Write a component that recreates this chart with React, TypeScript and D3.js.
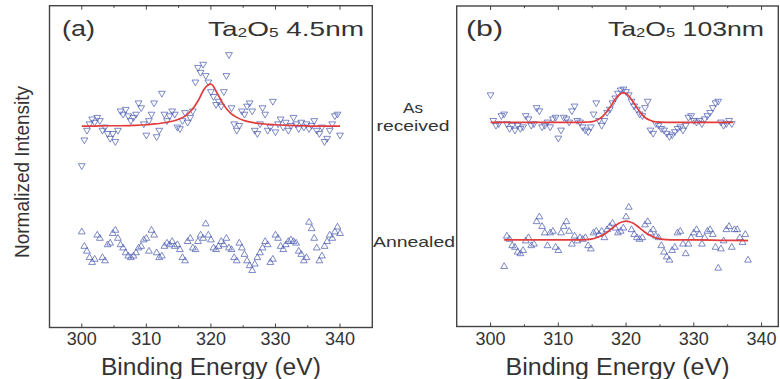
import React from 'react';
import * as d3 from 'd3';

// ---------- data ----------
const MAJOR_TICKS = [300, 310, 320, 330, 340];
const MINOR_TICKS = [305, 315, 325, 335];
const X_TITLE = 'Binding Energy (eV)';
const Y_TITLE = 'Normalized Intensity';

const STEP = 0.4;
const A_RECEIVED_START = 300;
const aReceived = [
  50, 58, 61, 63, 64.5, 63.5, 65, 64, 61, 62, 60, 58.5, 60, 57.5, 61, 67, 66, 67.5, 65.5, 64,
  65, 66, 69.5, 68, 63, 59.5, 64, 66, 69.5, 59, 61, 72.5, 66, 64, 65.5, 67, 66, 62, 61.5, 64,
  66.5, 63.5, 65, 67, 76, 80.5, 79, 81.5, 78, 76, 73, 71.5, 69, 70, 68.5, 73, 78, 84.5, 68, 63,
  61, 62.5, 67, 66, 68.5, 69.5, 67, 61, 60, 63, 68, 66, 61, 62, 70, 60.5, 63, 64.5, 62, 63.5,
  61, 62.5, 65, 63, 61.5, 63.5, 62, 63, 61.5, 62.5, 64, 61, 60, 62, 57.5, 58.5, 61, 63, 65.5, 66,
  59.5,
];
const A_ANNEALED_START = 300;
const aAnnealed = [
  30, 25.5, 24, 22, 20.5, 21.5, 29, 28, 22, 21, 26, 26.5, 29.5, 30.5, 28, 26, 25, 23.5, 22.5, 22,
  22.5, 23.5, 25, 25.5, 27.5, 28, 24, 30.5, 29, 23.5, 22, 22.5, 25.5, 26.5, 26, 27, 25.5, 26, 24.5, 22,
  21, 27, 28, 25, 24.5, 27, 29, 28, 32.5, 29, 27.5, 25, 24.5, 25.5, 27, 26, 28, 25, 24.5, 22,
  21, 26.5, 25, 23, 21, 19.5, 18, 20, 22, 23.5, 25, 27, 26, 20.5, 21.5, 29, 28, 25.5, 24.5, 26,
  27, 27.5, 27, 26.5, 24, 23, 21, 22, 33, 31, 28, 25, 21, 22.5, 25.5, 27, 29, 28, 30, 31.5,
  29.5,
];
const B_RECEIVED_START = 300;
const bReceived = [
  72, 64, 62.5, 63, 65.5, 66, 63, 61.5, 62.5, 61, 62.5, 61.5, 62, 65.5, 64.5, 62.5, 63, 68, 67, 62,
  62.5, 63.5, 62, 64.5, 65, 58.5, 61, 65, 64.5, 63.5, 67, 68.5, 64, 63.5, 62, 61, 60.5, 62, 66, 69.5,
  64, 62.5, 64, 66.5, 67.5, 69.5, 71, 72.5, 73.5, 73.8, 73, 72, 70, 68.5, 67.5, 66, 65.5, 68, 70, 61,
  60, 63, 62.5, 61.5, 61, 60, 59, 59.5, 60.5, 61.5, 62, 61, 62.5, 65, 65.5, 64, 63.5, 64, 63, 64.5,
  65.5, 66.5, 68, 69.5, 70, 63.5, 62.5, 63, 64, 63,
];
const B_ANNEALED_START = 302;
const bAnnealed = [
  19, 28.5, 27.5, 25.5, 25, 23.5, 23, 24, 27, 28, 25.5, 26, 33, 34.5, 31.5, 29.5, 25.5, 29.5, 30, 25,
  24, 29.5, 31.5, 33, 30, 26, 28.5, 27, 28, 27.5, 28, 25.5, 24.5, 29.5, 30, 29, 30, 28, 30.5, 31.5,
  32.5, 31, 29.5, 30, 31, 34.5, 37.5, 30.5, 29, 28, 27.5, 28, 32, 33, 29.5, 30.5, 28.5, 28, 25.5, 23.5,
  22, 21, 24, 25, 29.5, 30, 26, 23, 26, 28, 29.5, 30.5, 29, 26, 28, 30, 30.5, 29, 25, 18.5,
  24.5, 27, 30.5, 31.5, 25, 30.5, 30.5, 28, 26.5, 29, 21,
];

// fitted curves
const aFitE = [300, 302, 304, 306, 308, 310, 311, 312, 313, 314, 315, 316, 317, 318, 319, 320, 321, 322, 323, 324, 325, 326, 327, 328, 329, 330, 332, 334, 336, 338, 340];
const aFitY = [62.6, 62.6, 62.7, 62.7, 62.8, 63.0, 63.2, 63.4, 63.7, 64.1, 64.7, 65.7, 67.5, 70.4, 74.2, 75.6, 72.7, 69.1, 66.7, 65.3, 64.4, 63.9, 63.5, 63.3, 63.1, 63.0, 62.8, 62.7, 62.6, 62.6, 62.6];
const bFitE = [300, 305, 310, 313, 314, 314.5, 315, 315.5, 316, 316.5, 317, 317.5, 318, 318.5, 319, 319.5, 320, 320.5, 321, 321.5, 322, 322.5, 323, 323.5, 324, 324.5, 325, 326, 330, 335.8];
const bFitY = [63.7, 63.7, 63.7, 63.7, 63.74, 63.8, 63.9, 64.2, 64.7, 65.5, 66.6, 68.0, 69.6, 71.2, 72.3, 72.9, 72.7, 71.7, 70.2, 68.6, 67.1, 65.8, 64.9, 64.4, 64.0, 63.85, 63.75, 63.7, 63.7, 63.7];
const bAnnFitE = [302, 306, 310, 313, 314, 315, 315.5, 316, 316.5, 317, 317.5, 318, 318.5, 319, 319.5, 320, 320.5, 321, 321.5, 322, 322.5, 323, 323.5, 324, 324.5, 325, 326, 327, 330, 334, 338];
const bAnnFitY = [27.0, 27.0, 27.0, 27.0, 27.1, 27.35, 27.6, 28.0, 28.5, 29.1, 29.9, 30.75, 31.6, 32.3, 32.7, 32.9, 32.7, 32.3, 31.6, 30.75, 29.9, 29.1, 28.5, 28.0, 27.6, 27.35, 27.1, 27.0, 27.0, 26.9, 26.8];

// ---------- layout ----------
const W = 780;
const H = 379;
const FONT = '"Liberation Sans", Arial, sans-serif';
const TEXT = '#333';
const FRAME = '#444';
const MARK = '#4a5bb0';
const FIT = '#e23b3b';

type Panel = {
  left: number; right: number; top: number; bottom: number;
  xMax: number;
};
const PANEL_A: Panel = { left: 49.5, right: 372.3, top: 5.7, bottom: 327.5, xMax: 345 };
const PANEL_B: Panel = { left: 456.7, right: 778.3, top: 6, bottom: 326.5, xMax: 342.47 };

const series = (start: number, vals: number[]) => vals.map((v, i) => ({ e: start + i * STEP, v }));

function tri(cx: number, cy: number, down: boolean) {
  const w = 3.4, h = 2.9;
  return down
    ? `M${cx - w},${cy - h}L${cx + w},${cy - h}L${cx},${cy + h}Z`
    : `M${cx - w},${cy + h}L${cx + w},${cy + h}L${cx},${cy - h}Z`;
}

function PanelView({ p, received, annealed, fits, label, title, titleX, titleLen, labelX, labelLen, xTitleLen }: any) {
  const x = d3.scaleLinear().domain([295, p.xMax]).range([p.left, p.right]);
  const y = d3.scaleLinear().domain([0, 100]).range([p.bottom, p.top]);
  const line = d3.line<[number, number]>().x(d => x(d[0])).y(d => y(d[1])).curve(d3.curveMonotoneX);
  return (
    <g>
      {received.map((d: any, i: number) => (
        <path key={'r' + i} d={tri(x(d.e), y(d.v), true)} fill="none" stroke={MARK} strokeWidth={0.9} opacity={0.8} />
      ))}
      {annealed.map((d: any, i: number) => (
        <path key={'a' + i} d={tri(x(d.e), y(d.v), false)} fill="none" stroke={MARK} strokeWidth={0.9} opacity={0.8} />
      ))}
      {fits.map((f: any, i: number) => (
        <path key={'f' + i} d={line(f.e.map((e: number, j: number) => [e, f.y[j]]) as any) || ''} fill="none" stroke={FIT} strokeWidth={1.7} />
      ))}
      <rect x={p.left} y={p.top} width={p.right - p.left} height={p.bottom - p.top} fill="none" stroke={FRAME} strokeWidth={1.4} />
      {MAJOR_TICKS.map(t => (
        <g key={'M' + t}>
          <line x1={x(t)} x2={x(t)} y1={p.bottom} y2={p.bottom - 4} stroke={FRAME} strokeWidth={1} />
          <line x1={x(t)} x2={x(t)} y1={p.top} y2={p.top + 4} stroke={FRAME} strokeWidth={1} />
          <text x={x(t)} y={345} textAnchor="middle" fontSize={18} fill={TEXT} fontFamily={FONT}>{t}</text>
        </g>
      ))}
      {MINOR_TICKS.map(t => (
        <g key={'m' + t}>
          <line x1={x(t)} x2={x(t)} y1={p.bottom} y2={p.bottom - 2.2} stroke={FRAME} strokeWidth={1} />
          <line x1={x(t)} x2={x(t)} y1={p.top} y2={p.top + 2.2} stroke={FRAME} strokeWidth={1} />
        </g>
      ))}
      <text x={(p.left + p.right) / 2} y={375} textAnchor="middle" fontSize={23} fill={TEXT} fontFamily={FONT}
        textLength={xTitleLen} lengthAdjust="spacingAndGlyphs">{X_TITLE}</text>
      <text x={labelX} y={36} fontSize={22} fill={TEXT} fontFamily={FONT} textLength={labelLen} lengthAdjust="spacingAndGlyphs">{label}</text>
      <text x={titleX} y={36} fontSize={21} fill={TEXT} fontFamily={FONT} textLength={titleLen} lengthAdjust="spacingAndGlyphs">
        {title[0]}<tspan fontSize={13} dy={1}>{title[1]}</tspan><tspan dy={-1}>{title[2]}</tspan><tspan fontSize={13} dy={1}>{title[3]}</tspan><tspan dy={-1}>{title[4]}</tspan>
      </text>
    </g>
  );
}

export default function App() {
  const aR = series(A_RECEIVED_START, aReceived);
  const aA = series(A_ANNEALED_START, aAnnealed);
  const bR = series(B_RECEIVED_START, bReceived);
  const bA = series(B_ANNEALED_START, bAnnealed);
  return (
    <svg width={W} height={H} style={{ position: 'absolute', left: 0, top: 0, background: '#fff' }}>
      <rect width={W} height={H} fill="#fff" />
      <PanelView p={PANEL_A} received={aR} annealed={aA}
        fits={[{ e: aFitE, y: aFitY }]}
        label="(a)" labelX={62} labelLen={33}
        title={['Ta', '2', 'O', '5', ' 4.5nm']} titleX={208} titleLen={156} xTitleLen={220} />
      <PanelView p={PANEL_B} received={bR} annealed={bA}
        fits={[{ e: bFitE, y: bFitY }, { e: bAnnFitE, y: bAnnFitY }]}
        label="(b)" labelX={466} labelLen={37}
        title={['Ta', '2', 'O', '5', ' 103nm']} titleX={608} titleLen={156} xTitleLen={224} />
      <text transform="translate(29,172) rotate(-90)" textAnchor="middle" fontSize={21} fill={TEXT} fontFamily={FONT}
        textLength={172} lengthAdjust="spacingAndGlyphs">{Y_TITLE}</text>
      <text x={413} y={113} textAnchor="middle" fontSize={15} fill={TEXT} fontFamily={FONT} textLength={20} lengthAdjust="spacingAndGlyphs">As</text>
      <text x={413} y={131} textAnchor="middle" fontSize={15} fill={TEXT} fontFamily={FONT} textLength={73} lengthAdjust="spacingAndGlyphs">received</text>
      <text x={414} y={247} textAnchor="middle" fontSize={15} fill={TEXT} fontFamily={FONT} textLength={82} lengthAdjust="spacingAndGlyphs">Annealed</text>
    </svg>
  );
}
